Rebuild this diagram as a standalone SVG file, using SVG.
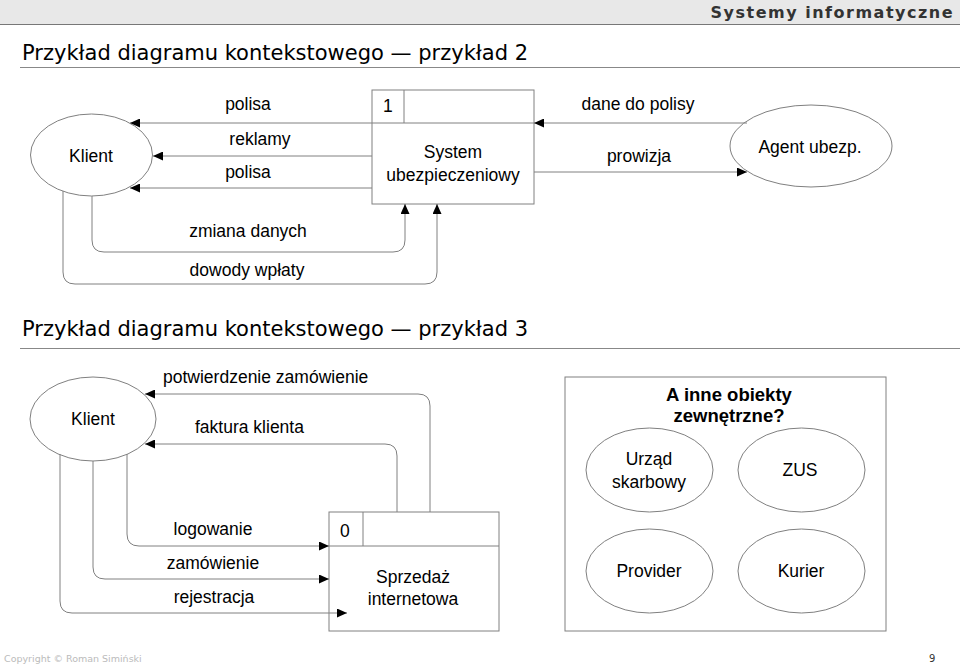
<svg xmlns="http://www.w3.org/2000/svg" width="960" height="665" viewBox="0 0 960 665">
<style>
.hdr{font-family:"DejaVu Sans",sans-serif;}
.t{font-family:"Liberation Sans",Arial,sans-serif;font-size:17.5px;fill:#000;}
.b{font-weight:bold;font-size:18.5px;}
.c{text-anchor:middle;}
.shape{fill:#fff;stroke:#808080;stroke-width:1;}
.ln{fill:none;stroke:#808080;stroke-width:1;}
.conn path{fill:none;stroke:#808080;stroke-width:1;marker-end:url(#ah);}
</style>
<defs>
<marker id="ah" markerWidth="10" markerHeight="9" refX="10" refY="4.5" orient="auto" markerUnits="userSpaceOnUse">
<path d="M0,0 L10,4.5 L0,9 z" fill="#000"/>
</marker>
</defs>
<rect x="0" y="0" width="960" height="665" fill="#fff"/>
<g id="header">
<rect x="0" y="0" width="960" height="24" fill="#e8e8e8"/>
<line x1="0" y1="24.5" x2="960" y2="24.5" stroke="#777" stroke-width="1"/>
<text class="hdr" x="954" y="18" text-anchor="end" font-size="16" font-weight="bold" fill="#333" letter-spacing="1.5">Systemy informatyczne</text>
</g>
<g id="title1">
<text class="hdr" x="22" y="60" font-size="21" fill="#000">Przykład diagramu kontekstowego — przykład 2</text>
<line x1="20" y1="67.5" x2="960" y2="67.5" stroke="#888" stroke-width="1"/>
</g>
<g id="title2">
<text class="hdr" x="22" y="336" font-size="21" fill="#000">Przykład diagramu kontekstowego — przykład 3</text>
<line x1="20" y1="348.5" x2="960" y2="348.5" stroke="#888" stroke-width="1"/>
</g>

<g id="klient1">
<ellipse class="shape" cx="91.5" cy="155" rx="61" ry="41"/>
<text class="t c" x="91" y="162">Klient</text>
</g>
<g id="system1">
<rect class="shape" x="372" y="90" width="162" height="114"/>
<line class="ln" x1="372" y1="123" x2="534" y2="123"/>
<line class="ln" x1="404" y1="90" x2="404" y2="123"/>
<text class="t" x="383" y="112">1</text>
<text class="t c" x="453" y="158">System</text>
<text class="t c" x="453" y="181">ubezpieczeniowy</text>
</g>
<g id="agent">
<ellipse class="shape" cx="811" cy="146" rx="81" ry="41"/>
<text class="t c" x="810" y="153">Agent ubezp.</text>
</g>

<g id="klient2">
<ellipse class="shape" cx="93" cy="419" rx="63" ry="42"/>
<text class="t c" x="93" y="425">Klient</text>
</g>
<g id="sprzedaz">
<rect class="shape" x="329" y="512" width="170" height="119"/>
<line class="ln" x1="329" y1="546" x2="499" y2="546"/>
<line class="ln" x1="363" y1="512" x2="363" y2="546"/>
<text class="t" x="340" y="537">0</text>
<text class="t c" x="413" y="583">Sprzedaż</text>
<text class="t c" x="413" y="605">internetowa</text>
</g>
<g id="inne">
<rect class="shape" x="565" y="377" width="321" height="254"/>
<text class="t c b" x="729" y="401">A inne obiekty</text>
<text class="t c b" x="729" y="422">zewnętrzne?</text>
</g>
<g id="urzad">
<ellipse class="shape" cx="649.5" cy="470" rx="63.5" ry="42"/>
<text class="t c" x="649" y="465">Urząd</text>
<text class="t c" x="649" y="488">skarbowy</text>
</g>
<g id="zus">
<ellipse class="shape" cx="801.5" cy="470" rx="63.5" ry="42"/>
<text class="t c" x="800" y="476">ZUS</text>
</g>
<g id="provider">
<ellipse class="shape" cx="649.5" cy="571" rx="63.5" ry="42"/>
<text class="t c" x="649" y="577">Provider</text>
</g>
<g id="kurier">
<ellipse class="shape" cx="801.5" cy="571" rx="63.5" ry="42"/>
<text class="t c" x="801" y="577">Kurier</text>
</g>

<g id="connectors" class="conn">
<path d="M372,123 H130"/>
<path d="M372,156 H153"/>
<path d="M372,188 H130"/>
<path d="M747,123 H534"/>
<path d="M534,172 H747"/>
<path d="M92,196 V240 Q92,252 104,252 H393 Q405,252 405,240 V204"/>
<path d="M63,191 V272 Q63,284 75,284 H425 Q437,284 437,272 V204"/>
<path d="M430,512 V406 Q430,394 418,394 H145"/>
<path d="M397,512 V456 Q397,444 385,444 H145"/>
<path d="M127,454 V534 Q127,546 139,546 H329"/>
<path d="M93,461 V567 Q93,579 105,579 H329"/>
<path d="M60,454 V601 Q60,613 72,613 H347"/>
</g>
<g id="labels">
<text class="t c" x="248" y="110">polisa</text>
<text class="t c" x="260" y="145">reklamy</text>
<text class="t c" x="248" y="178">polisa</text>
<text class="t c" x="638" y="110">dane do polisy</text>
<text class="t c" x="639" y="162">prowizja</text>
<text class="t c" x="248" y="237">zmiana danych</text>
<text class="t c" x="247" y="276">dowody wpłaty</text>
<text class="t" x="163" y="383">potwierdzenie zamówienie</text>
<text class="t" x="195" y="433">faktura klienta</text>
<text class="t c" x="213" y="535">logowanie</text>
<text class="t c" x="213" y="569">zamówienie</text>
<text class="t c" x="214" y="603">rejestracja</text>
</g>
<g id="footer">
<text class="hdr" x="4" y="662" font-size="9.5" fill="#bbb">Copyright © Roman Simiński</text>
<text class="hdr" x="929" y="662" font-size="10" fill="#333">9</text>
</g>
</svg>
